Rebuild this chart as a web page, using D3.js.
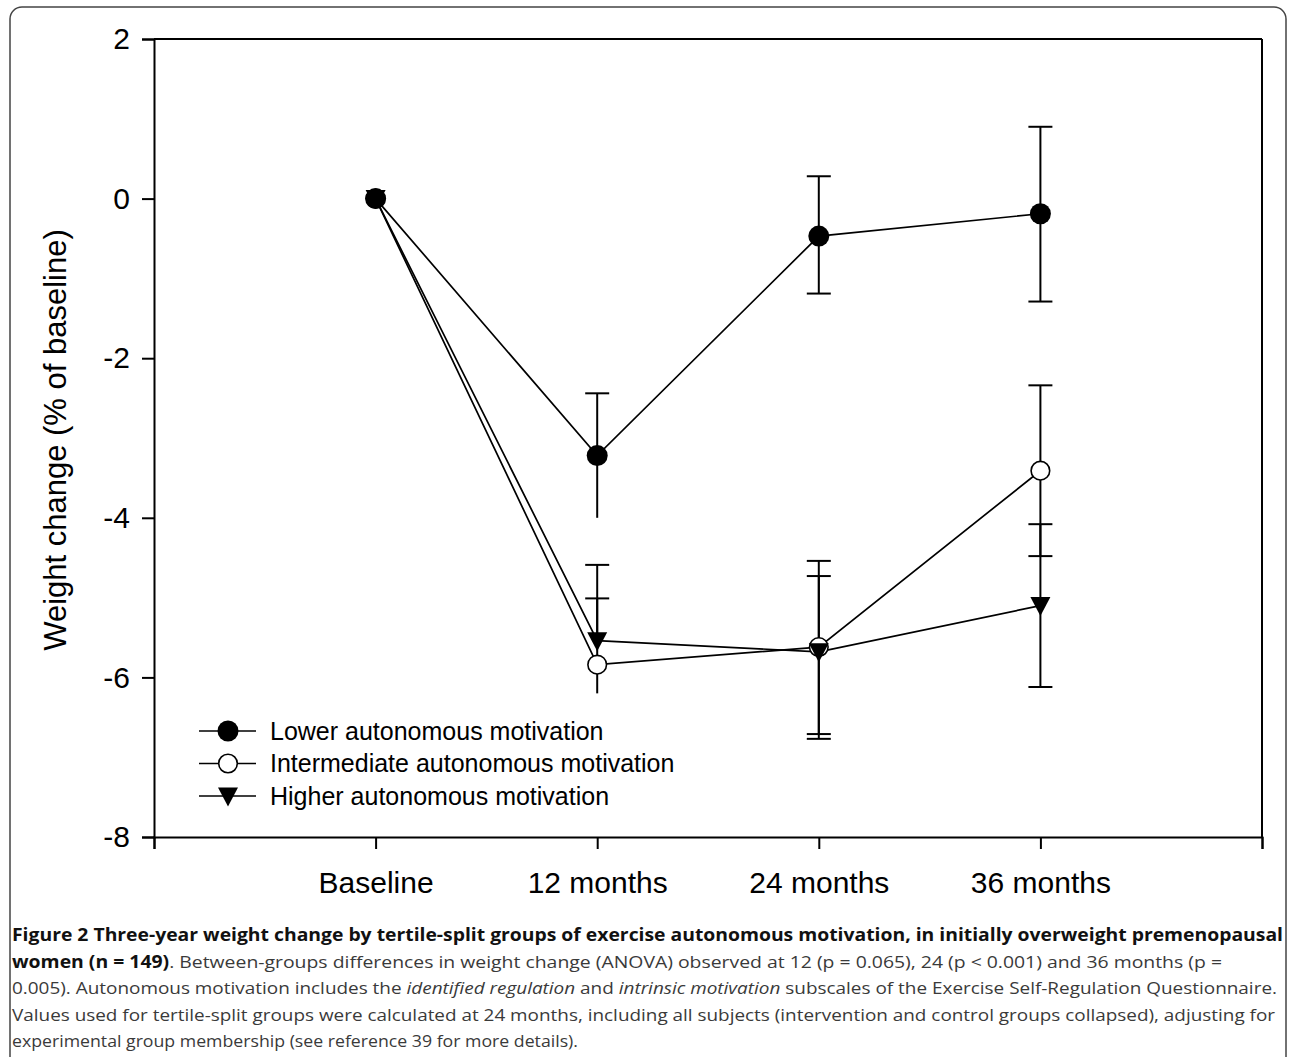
<!DOCTYPE html>
<html>
<head>
<meta charset="utf-8">
<script src="https://cdn.jsdelivr.net/npm/d3@7"></script>
<style>
  html, body { margin: 0; padding: 0; background: #fff; }
  svg { display: block; }
</style>
</head>
<body>
<svg id="chart" width="1290" height="1057"></svg>
<script>
// ---- data ----
const categories = ["Baseline", "12 months", "24 months", "36 months"];
const seriesNames = ["Lower autonomous motivation", "Intermediate autonomous motivation", "Higher autonomous motivation"];
const lowerMean = [0, -3.22, -0.47, -0.19];
const lowerHi   = [null, -2.44, 0.28, 0.90];
const lowerLo   = [null, -4.00, -1.19, -1.29];
const interMean = [0, -5.84, -5.62, -3.41];
const interHi   = [null, -5.01, -4.54, -2.34];
const interLo   = [null, -6.20, -6.71, -4.48];
const higherMean = [0, -5.54, -5.68, -5.10];
const higherHi   = [null, -4.59, -4.73, -4.08];
const higherLo   = [null, null, -6.77, -6.12];
const capLoShown = [null, false, true, true];
const yTicks = [-8, -6, -4, -2, 0, 2];
const xTickPositions = [-1, 0, 1, 2, 3, 4];
const yLabel = "Weight change (% of baseline)";

const svg = d3.select("#chart");

// frame
svg.append("rect").attr("x", 10).attr("y", 7).attr("width", 1276).attr("height", 1080)
  .attr("rx", 12).attr("fill", "none").attr("stroke", "#444").attr("stroke-width", 1.5);

const x = d3.scaleLinear().domain([-1, 4]).range([154, 1262]);
const y = d3.scaleLinear().domain([-8, 2]).range([837, 39]);

const g = svg.append("g");
const font = "Liberation Sans, Arial, sans-serif";

// box lines (top, right)
g.append("line").attr("x1", x(-1)).attr("x2", x(4)).attr("y1", y(2)).attr("y2", y(2)).attr("stroke", "#000").attr("stroke-width", 2);
g.append("line").attr("x1", x(4)).attr("x2", x(4)).attr("y1", y(2)).attr("y2", y(-8)).attr("stroke", "#000").attr("stroke-width", 2);

// y axis
const yAxis = g.append("g").attr("transform", `translate(${x(-1)},0)`)
  .call(d3.axisLeft(y).tickValues(yTicks).tickSize(12).tickPadding(12).tickFormat(d => String(d)));
yAxis.select(".domain").attr("stroke-width", 2);
yAxis.selectAll(".tick line").attr("stroke-width", 2);
yAxis.selectAll("text").attr("font-family", font).attr("font-size", 30).attr("fill", "#000");

// x axis
const xAxis = g.append("g").attr("transform", `translate(0,${y(-8)})`)
  .call(d3.axisBottom(x).tickValues(xTickPositions).tickSize(12)
    .tickFormat(d => (d >= 0 && d < categories.length) ? categories[d] : ""));
xAxis.select(".domain").attr("stroke-width", 2);
xAxis.selectAll(".tick line").attr("stroke-width", 2);
xAxis.selectAll("text").attr("font-family", font).attr("font-size", 30).attr("fill", "#000")
  .attr("dy", null).attr("y", 56);

// y label
svg.append("text").attr("transform", `translate(66,440) rotate(-90)`)
  .attr("text-anchor", "middle").attr("font-family", font).attr("font-size", 31)
  .text(yLabel);

const series = [
  { name: seriesNames[1], mean: interMean, hi: interHi, lo: interLo, marker: "open" },
  { name: seriesNames[2], mean: higherMean, hi: higherHi, lo: higherLo, marker: "tri" },
  { name: seriesNames[0], mean: lowerMean, hi: lowerHi, lo: lowerLo, marker: "filled" }
];

const capW = 12;
// error bars
series.forEach(s => {
  const eb = g.append("g").attr("stroke", "#000").attr("stroke-width", 2);
  s.mean.forEach((m, i) => {
    if (s.hi[i] !== null) {
      eb.append("line").attr("x1", x(i)).attr("x2", x(i)).attr("y1", y(m)).attr("y2", y(s.hi[i]));
      eb.append("line").attr("x1", x(i) - capW).attr("x2", x(i) + capW).attr("y1", y(s.hi[i])).attr("y2", y(s.hi[i]));
    }
    if (s.lo[i] !== null) {
      eb.append("line").attr("x1", x(i)).attr("x2", x(i)).attr("y1", y(m)).attr("y2", y(s.lo[i]));
      if (capLoShown[i]) eb.append("line").attr("x1", x(i) - capW).attr("x2", x(i) + capW).attr("y1", y(s.lo[i])).attr("y2", y(s.lo[i]));
    }
  });
});

// lines
const lineGen = d3.line().x((d, i) => x(i)).y(d => y(d));
series.forEach(s => {
  g.append("path").attr("d", lineGen(s.mean)).attr("fill", "none").attr("stroke", "#000").attr("stroke-width", 1.7);
});

function drawMarker(sel, type, cx, cy) {
  if (type === "filled") {
    sel.append("circle").attr("cx", cx).attr("cy", cy).attr("r", 10.5).attr("fill", "#000");
  } else if (type === "open") {
    sel.append("circle").attr("cx", cx).attr("cy", cy).attr("r", 9.3).attr("fill", "#fff").attr("stroke", "#000").attr("stroke-width", 1.6);
  } else {
    const h = 19, w = 20;
    sel.append("path").attr("d", `M${cx - w / 2},${cy - h / 2 + 1}L${cx + w / 2},${cy - h / 2 + 1}L${cx},${cy + h / 2 + 1}Z`).attr("fill", "#000");
  }
}

series.forEach(s => {
  const mg = g.append("g");
  s.mean.forEach((m, i) => drawMarker(mg, s.marker, x(i), y(m)));
});

// legend
const legendOrder = [
  { name: seriesNames[0], marker: "filled" },
  { name: seriesNames[1], marker: "open" },
  { name: seriesNames[2], marker: "tri" }
];
const lg = svg.append("g");
legendOrder.forEach((d, i) => {
  const yy = 731 + i * 32.5;
  lg.append("line").attr("x1", 199).attr("x2", 256).attr("y1", yy).attr("y2", yy).attr("stroke", "#000").attr("stroke-width", 1.7);
  drawMarker(lg, d.marker, 228, yy);
  lg.append("text").attr("x", 270).attr("y", yy).attr("dy", "0.35em")
    .attr("font-family", font).attr("font-size", 25).text(d.name);
});

// caption
const cap = svg.append("g").attr("font-family", "Open Sans, sans-serif").attr("font-size", 17);
const capLines = [
  { y: 941, len: 1271, parts: [["b", "Figure 2 Three-year weight change by tertile-split groups of exercise autonomous motivation, in initially overweight premenopausal"]] },
  { y: 967.5, len: 1210, parts: [["b", "women (n = 149)"], ["r", ". Between-groups differences in weight change (ANOVA) observed at 12 (p = 0.065), 24 (p < 0.001) and 36 months (p ="]] },
  { y: 994, len: 1265, parts: [["r", "0.005). Autonomous motivation includes the "], ["i", "identified regulation"], ["r", " and "], ["i", "intrinsic motivation"], ["r", " subscales of the Exercise Self-Regulation Questionnaire."]] },
  { y: 1020.5, len: 1263, parts: [["r", "Values used for tertile-split groups were calculated at 24 months, including all subjects (intervention and control groups collapsed), adjusting for"]] },
  { y: 1047, len: 566, parts: [["r", "experimental group membership (see reference 39 for more details)."]] }
];
capLines.forEach(l => {
  const t = cap.append("text").attr("x", 12).attr("y", l.y)
    .attr("textLength", l.len).attr("lengthAdjust", "spacingAndGlyphs");
  l.parts.forEach(p => {
    const ts = t.append("tspan").text(p[1]);
    if (p[0] === "b") ts.attr("font-weight", "bold").attr("fill", "#111");
    else ts.attr("fill", "#3a3a3a");
    if (p[0] === "i") ts.attr("font-style", "italic");
  });
});
</script>
</body>
</html>
